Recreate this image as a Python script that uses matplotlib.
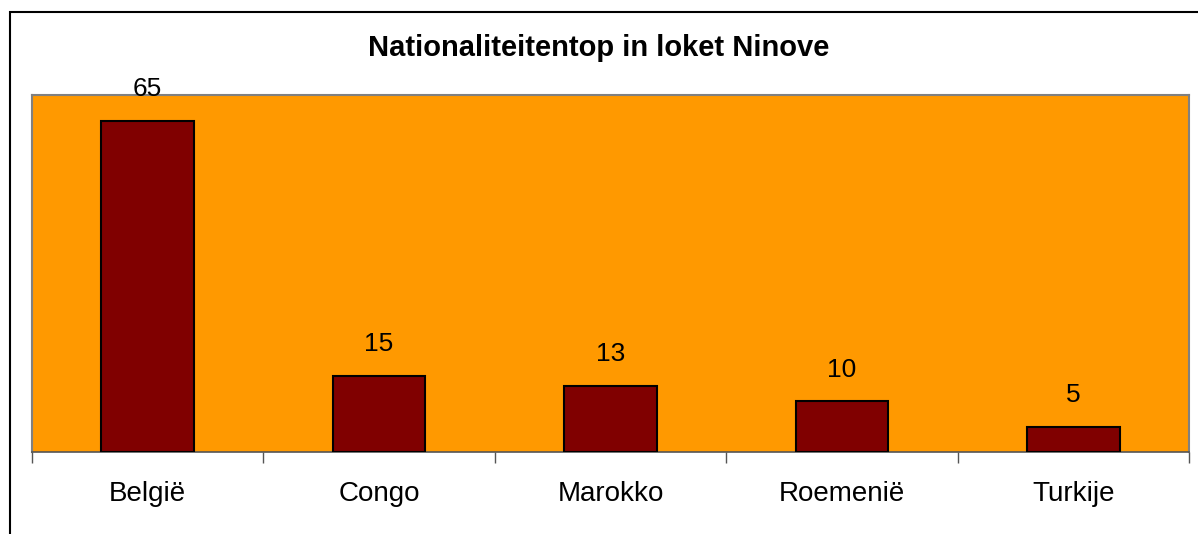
import matplotlib.pyplot as plt
from matplotlib.patches import Rectangle

plt.rcParams['font.family'] = ['Liberation Sans', 'DejaVu Sans']

landen = ['België', 'Congo', 'Marokko', 'Roemenië', 'Turkije']
aantallen = [65, 15, 13, 10, 5]

W, H = 1198, 534
fig = plt.figure(figsize=(W / 100, H / 100), dpi=100)
fig.patch.set_facecolor('white')

# outer frame of the chart (runs off the right and bottom edge)
fig.patches.append(Rectangle((10 / W, -0.1), 1.2, 1 - 12 / H + 0.1,
                             transform=fig.transFigure, fill=False,
                             edgecolor='black', linewidth=1.5, zorder=0))

ax = fig.add_axes([32 / W, 1 - 452 / H, (1189 - 32) / W, (452 - 95) / H])
ax.set_facecolor('#ff9900')
x = range(len(landen))
bars = ax.bar(x, aantallen, width=0.4, color='#800000', edgecolor='black',
              linewidth=1.5, zorder=3)
ax.set_xlim(-0.5, len(landen) - 0.5)
ax.set_ylim(0, 70)

for b, v in zip(bars, aantallen):
    ax.annotate(str(v), (b.get_x() + b.get_width() / 2, v), xytext=(0, 14),
                textcoords='offset points', ha='center', va='bottom',
                fontsize=19, clip_on=False, zorder=5)

for s in ['top', 'right', 'left']:
    ax.spines[s].set_color('#808080')
    ax.spines[s].set_linewidth(1.5)
ax.spines['bottom'].set_color('#555555')
ax.spines['bottom'].set_linewidth(1.2)

ax.set_yticks([])
ax.set_xticks([i - 0.5 for i in range(len(landen) + 1)])
ax.set_xticklabels([])
ax.set_xticks(list(x), minor=True)
ax.set_xticklabels(landen, minor=True, fontsize=20)
ax.tick_params(axis='x', which='major', length=8, color='#555555', width=1)
ax.tick_params(axis='x', which='minor', length=0, pad=21)

fig.text(0.5, 1 - 48 / H, 'Nationaliteitentop in loket Ninove',
         ha='center', va='center', fontsize=21, fontweight='bold')

fig.savefig('out.png', dpi=100)
